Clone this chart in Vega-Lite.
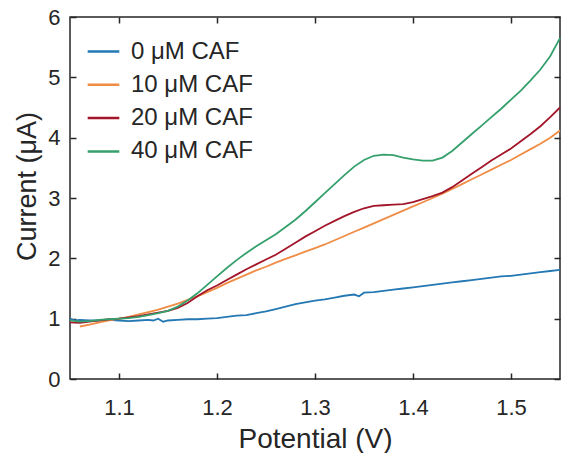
{
  "$schema": "https://vega.github.io/schema/vega-lite/v6.json",
  "width": 490,
  "height": 362,
  "padding": {"left": 13, "top": 6, "right": 0, "bottom": 0},
  "config": {
    "font": "Liberation Sans",
    "view": {"stroke": "#262626", "strokeWidth": 1.5},
    "axis": {"grid": false, "domain": false, "ticks": true, "tickColor": "#262626", "tickWidth": 1.5, "labelColor": "#262626", "titleColor": "#262626", "titleFontWeight": "normal"}
  },
  "data": {"values": [
      {"c": "0 μM CAF", "x": 1.05, "y": 1.0}, {"c": "0 μM CAF", "x": 1.055, "y": 0.97}, {"c": "0 μM CAF", "x": 1.06, "y": 0.98}, {"c": "0 μM CAF", "x": 1.07, "y": 0.97}, {"c": "0 μM CAF", "x": 1.08, "y": 0.97}, {"c": "0 μM CAF", "x": 1.09, "y": 0.98}, {"c": "0 μM CAF", "x": 1.1, "y": 0.97}, {"c": "0 μM CAF", "x": 1.11, "y": 0.96}, {"c": "0 μM CAF", "x": 1.12, "y": 0.97}, {"c": "0 μM CAF", "x": 1.13, "y": 0.98}, {"c": "0 μM CAF", "x": 1.135, "y": 0.97}, {"c": "0 μM CAF", "x": 1.14, "y": 1.0}, {"c": "0 μM CAF", "x": 1.145, "y": 0.95}, {"c": "0 μM CAF", "x": 1.15, "y": 0.97}, {"c": "0 μM CAF", "x": 1.16, "y": 0.98}, {"c": "0 μM CAF", "x": 1.17, "y": 0.99}, {"c": "0 μM CAF", "x": 1.18, "y": 0.99}, {"c": "0 μM CAF", "x": 1.19, "y": 1.0}, {"c": "0 μM CAF", "x": 1.2, "y": 1.01}, {"c": "0 μM CAF", "x": 1.21, "y": 1.03}, {"c": "0 μM CAF", "x": 1.22, "y": 1.05}, {"c": "0 μM CAF", "x": 1.23, "y": 1.06}, {"c": "0 μM CAF", "x": 1.24, "y": 1.09}, {"c": "0 μM CAF", "x": 1.25, "y": 1.12}, {"c": "0 μM CAF", "x": 1.26, "y": 1.16}, {"c": "0 μM CAF", "x": 1.27, "y": 1.2}, {"c": "0 μM CAF", "x": 1.28, "y": 1.24}, {"c": "0 μM CAF", "x": 1.29, "y": 1.27}, {"c": "0 μM CAF", "x": 1.3, "y": 1.3}, {"c": "0 μM CAF", "x": 1.31, "y": 1.32}, {"c": "0 μM CAF", "x": 1.32, "y": 1.35}, {"c": "0 μM CAF", "x": 1.33, "y": 1.38}, {"c": "0 μM CAF", "x": 1.34, "y": 1.4}, {"c": "0 μM CAF", "x": 1.345, "y": 1.37}, {"c": "0 μM CAF", "x": 1.35, "y": 1.43}, {"c": "0 μM CAF", "x": 1.36, "y": 1.44}, {"c": "0 μM CAF", "x": 1.37, "y": 1.46}, {"c": "0 μM CAF", "x": 1.38, "y": 1.48}, {"c": "0 μM CAF", "x": 1.39, "y": 1.5}, {"c": "0 μM CAF", "x": 1.4, "y": 1.52}, {"c": "0 μM CAF", "x": 1.41, "y": 1.54}, {"c": "0 μM CAF", "x": 1.42, "y": 1.56}, {"c": "0 μM CAF", "x": 1.43, "y": 1.58}, {"c": "0 μM CAF", "x": 1.44, "y": 1.6}, {"c": "0 μM CAF", "x": 1.45, "y": 1.62}, {"c": "0 μM CAF", "x": 1.46, "y": 1.64}, {"c": "0 μM CAF", "x": 1.47, "y": 1.66}, {"c": "0 μM CAF", "x": 1.48, "y": 1.68}, {"c": "0 μM CAF", "x": 1.49, "y": 1.7}, {"c": "0 μM CAF", "x": 1.5, "y": 1.71}, {"c": "0 μM CAF", "x": 1.51, "y": 1.73}, {"c": "0 μM CAF", "x": 1.52, "y": 1.75}, {"c": "0 μM CAF", "x": 1.53, "y": 1.77}, {"c": "0 μM CAF", "x": 1.54, "y": 1.79}, {"c": "0 μM CAF", "x": 1.55, "y": 1.81},

      {"c": "10 μM CAF", "x": 1.06, "y": 0.87}, {"c": "10 μM CAF", "x": 1.07, "y": 0.9}, {"c": "10 μM CAF", "x": 1.08, "y": 0.94}, {"c": "10 μM CAF", "x": 1.09, "y": 0.97}, {"c": "10 μM CAF", "x": 1.1, "y": 1.0}, {"c": "10 μM CAF", "x": 1.11, "y": 1.03}, {"c": "10 μM CAF", "x": 1.12, "y": 1.07}, {"c": "10 μM CAF", "x": 1.13, "y": 1.11}, {"c": "10 μM CAF", "x": 1.14, "y": 1.15}, {"c": "10 μM CAF", "x": 1.15, "y": 1.2}, {"c": "10 μM CAF", "x": 1.16, "y": 1.25}, {"c": "10 μM CAF", "x": 1.17, "y": 1.31}, {"c": "10 μM CAF", "x": 1.18, "y": 1.37}, {"c": "10 μM CAF", "x": 1.19, "y": 1.44}, {"c": "10 μM CAF", "x": 1.2, "y": 1.51}, {"c": "10 μM CAF", "x": 1.21, "y": 1.59}, {"c": "10 μM CAF", "x": 1.22, "y": 1.66}, {"c": "10 μM CAF", "x": 1.23, "y": 1.73}, {"c": "10 μM CAF", "x": 1.24, "y": 1.8}, {"c": "10 μM CAF", "x": 1.25, "y": 1.86}, {"c": "10 μM CAF", "x": 1.26, "y": 1.93}, {"c": "10 μM CAF", "x": 1.27, "y": 1.99}, {"c": "10 μM CAF", "x": 1.28, "y": 2.05}, {"c": "10 μM CAF", "x": 1.29, "y": 2.11}, {"c": "10 μM CAF", "x": 1.3, "y": 2.17}, {"c": "10 μM CAF", "x": 1.31, "y": 2.23}, {"c": "10 μM CAF", "x": 1.32, "y": 2.3}, {"c": "10 μM CAF", "x": 1.33, "y": 2.37}, {"c": "10 μM CAF", "x": 1.34, "y": 2.44}, {"c": "10 μM CAF", "x": 1.35, "y": 2.51}, {"c": "10 μM CAF", "x": 1.36, "y": 2.58}, {"c": "10 μM CAF", "x": 1.37, "y": 2.65}, {"c": "10 μM CAF", "x": 1.38, "y": 2.72}, {"c": "10 μM CAF", "x": 1.39, "y": 2.79}, {"c": "10 μM CAF", "x": 1.4, "y": 2.86}, {"c": "10 μM CAF", "x": 1.41, "y": 2.93}, {"c": "10 μM CAF", "x": 1.42, "y": 3.0}, {"c": "10 μM CAF", "x": 1.43, "y": 3.07}, {"c": "10 μM CAF", "x": 1.44, "y": 3.15}, {"c": "10 μM CAF", "x": 1.45, "y": 3.23}, {"c": "10 μM CAF", "x": 1.46, "y": 3.31}, {"c": "10 μM CAF", "x": 1.47, "y": 3.39}, {"c": "10 μM CAF", "x": 1.48, "y": 3.47}, {"c": "10 μM CAF", "x": 1.49, "y": 3.55}, {"c": "10 μM CAF", "x": 1.5, "y": 3.63}, {"c": "10 μM CAF", "x": 1.51, "y": 3.72}, {"c": "10 μM CAF", "x": 1.52, "y": 3.81}, {"c": "10 μM CAF", "x": 1.53, "y": 3.9}, {"c": "10 μM CAF", "x": 1.54, "y": 4.0}, {"c": "10 μM CAF", "x": 1.55, "y": 4.12},

      {"c": "20 μM CAF", "x": 1.05, "y": 0.94}, {"c": "20 μM CAF", "x": 1.06, "y": 0.93}, {"c": "20 μM CAF", "x": 1.07, "y": 0.95}, {"c": "20 μM CAF", "x": 1.08, "y": 0.97}, {"c": "20 μM CAF", "x": 1.09, "y": 0.99}, {"c": "20 μM CAF", "x": 1.1, "y": 1.0}, {"c": "20 μM CAF", "x": 1.11, "y": 1.02}, {"c": "20 μM CAF", "x": 1.12, "y": 1.04}, {"c": "20 μM CAF", "x": 1.13, "y": 1.07}, {"c": "20 μM CAF", "x": 1.14, "y": 1.1}, {"c": "20 μM CAF", "x": 1.15, "y": 1.13}, {"c": "20 μM CAF", "x": 1.16, "y": 1.18}, {"c": "20 μM CAF", "x": 1.17, "y": 1.26}, {"c": "20 μM CAF", "x": 1.18, "y": 1.37}, {"c": "20 μM CAF", "x": 1.19, "y": 1.47}, {"c": "20 μM CAF", "x": 1.2, "y": 1.55}, {"c": "20 μM CAF", "x": 1.21, "y": 1.64}, {"c": "20 μM CAF", "x": 1.22, "y": 1.73}, {"c": "20 μM CAF", "x": 1.23, "y": 1.82}, {"c": "20 μM CAF", "x": 1.24, "y": 1.9}, {"c": "20 μM CAF", "x": 1.25, "y": 1.98}, {"c": "20 μM CAF", "x": 1.26, "y": 2.06}, {"c": "20 μM CAF", "x": 1.27, "y": 2.16}, {"c": "20 μM CAF", "x": 1.28, "y": 2.26}, {"c": "20 μM CAF", "x": 1.29, "y": 2.36}, {"c": "20 μM CAF", "x": 1.3, "y": 2.45}, {"c": "20 μM CAF", "x": 1.31, "y": 2.54}, {"c": "20 μM CAF", "x": 1.32, "y": 2.62}, {"c": "20 μM CAF", "x": 1.33, "y": 2.7}, {"c": "20 μM CAF", "x": 1.34, "y": 2.77}, {"c": "20 μM CAF", "x": 1.35, "y": 2.83}, {"c": "20 μM CAF", "x": 1.36, "y": 2.87}, {"c": "20 μM CAF", "x": 1.37, "y": 2.88}, {"c": "20 μM CAF", "x": 1.38, "y": 2.89}, {"c": "20 μM CAF", "x": 1.39, "y": 2.9}, {"c": "20 μM CAF", "x": 1.4, "y": 2.93}, {"c": "20 μM CAF", "x": 1.41, "y": 2.98}, {"c": "20 μM CAF", "x": 1.42, "y": 3.03}, {"c": "20 μM CAF", "x": 1.43, "y": 3.09}, {"c": "20 μM CAF", "x": 1.44, "y": 3.18}, {"c": "20 μM CAF", "x": 1.45, "y": 3.29}, {"c": "20 μM CAF", "x": 1.46, "y": 3.4}, {"c": "20 μM CAF", "x": 1.47, "y": 3.51}, {"c": "20 μM CAF", "x": 1.48, "y": 3.62}, {"c": "20 μM CAF", "x": 1.49, "y": 3.72}, {"c": "20 μM CAF", "x": 1.5, "y": 3.82}, {"c": "20 μM CAF", "x": 1.51, "y": 3.94}, {"c": "20 μM CAF", "x": 1.52, "y": 4.06}, {"c": "20 μM CAF", "x": 1.53, "y": 4.19}, {"c": "20 μM CAF", "x": 1.54, "y": 4.34}, {"c": "20 μM CAF", "x": 1.55, "y": 4.5},

      {"c": "40 μM CAF", "x": 1.05, "y": 0.97}, {"c": "40 μM CAF", "x": 1.06, "y": 0.95}, {"c": "40 μM CAF", "x": 1.07, "y": 0.96}, {"c": "40 μM CAF", "x": 1.08, "y": 0.98}, {"c": "40 μM CAF", "x": 1.09, "y": 0.99}, {"c": "40 μM CAF", "x": 1.1, "y": 1.0}, {"c": "40 μM CAF", "x": 1.11, "y": 1.01}, {"c": "40 μM CAF", "x": 1.12, "y": 1.03}, {"c": "40 μM CAF", "x": 1.13, "y": 1.06}, {"c": "40 μM CAF", "x": 1.14, "y": 1.09}, {"c": "40 μM CAF", "x": 1.15, "y": 1.13}, {"c": "40 μM CAF", "x": 1.16, "y": 1.2}, {"c": "40 μM CAF", "x": 1.17, "y": 1.3}, {"c": "40 μM CAF", "x": 1.18, "y": 1.42}, {"c": "40 μM CAF", "x": 1.19, "y": 1.56}, {"c": "40 μM CAF", "x": 1.2, "y": 1.7}, {"c": "40 μM CAF", "x": 1.21, "y": 1.84}, {"c": "40 μM CAF", "x": 1.22, "y": 1.97}, {"c": "40 μM CAF", "x": 1.23, "y": 2.09}, {"c": "40 μM CAF", "x": 1.24, "y": 2.2}, {"c": "40 μM CAF", "x": 1.25, "y": 2.3}, {"c": "40 μM CAF", "x": 1.26, "y": 2.4}, {"c": "40 μM CAF", "x": 1.27, "y": 2.52}, {"c": "40 μM CAF", "x": 1.28, "y": 2.64}, {"c": "40 μM CAF", "x": 1.29, "y": 2.78}, {"c": "40 μM CAF", "x": 1.3, "y": 2.93}, {"c": "40 μM CAF", "x": 1.31, "y": 3.08}, {"c": "40 μM CAF", "x": 1.32, "y": 3.23}, {"c": "40 μM CAF", "x": 1.33, "y": 3.38}, {"c": "40 μM CAF", "x": 1.34, "y": 3.52}, {"c": "40 μM CAF", "x": 1.35, "y": 3.63}, {"c": "40 μM CAF", "x": 1.36, "y": 3.7}, {"c": "40 μM CAF", "x": 1.37, "y": 3.72}, {"c": "40 μM CAF", "x": 1.38, "y": 3.71}, {"c": "40 μM CAF", "x": 1.39, "y": 3.67}, {"c": "40 μM CAF", "x": 1.4, "y": 3.64}, {"c": "40 μM CAF", "x": 1.41, "y": 3.62}, {"c": "40 μM CAF", "x": 1.42, "y": 3.62}, {"c": "40 μM CAF", "x": 1.43, "y": 3.67}, {"c": "40 μM CAF", "x": 1.44, "y": 3.78}, {"c": "40 μM CAF", "x": 1.45, "y": 3.92}, {"c": "40 μM CAF", "x": 1.46, "y": 4.06}, {"c": "40 μM CAF", "x": 1.47, "y": 4.2}, {"c": "40 μM CAF", "x": 1.48, "y": 4.34}, {"c": "40 μM CAF", "x": 1.49, "y": 4.48}, {"c": "40 μM CAF", "x": 1.5, "y": 4.63}, {"c": "40 μM CAF", "x": 1.51, "y": 4.78}, {"c": "40 μM CAF", "x": 1.52, "y": 4.95}, {"c": "40 μM CAF", "x": 1.53, "y": 5.13}, {"c": "40 μM CAF", "x": 1.54, "y": 5.35}, {"c": "40 μM CAF", "x": 1.55, "y": 5.65}
  ]},
  "layer": [
    {
      "mark": {"type": "line", "strokeWidth": 1.8},
      "encoding": {
        "x": {"field": "x", "type": "quantitative", "scale": {"domain": [1.05, 1.55], "nice": false, "zero": false},
          "axis": {"orient": "bottom", "values": [1.1, 1.2, 1.3, 1.4, 1.5], "format": ".1f", "tickSize": -6, "labelPadding": 24, "labelFontSize": 22, "title": "Potential (V)", "titleFontSize": 28, "titleY": 68, "titleBaseline": "alphabetic"}},
        "y": {"field": "y", "type": "quantitative", "scale": {"domain": [0, 6], "nice": false, "zero": true},
          "axis": {"orient": "left", "values": [0, 1, 2, 3, 4, 5, 6], "format": "d", "tickSize": -6, "labelPadding": 16, "labelFontSize": 22, "title": "Current (μA)", "titleFontSize": 27, "titleX": -35, "titleY": 169, "titleBaseline": "alphabetic", "titleAngle": -90}},
        "color": {"field": "c", "type": "nominal",
          "scale": {"domain": ["0 μM CAF", "10 μM CAF", "20 μM CAF", "40 μM CAF"], "range": ["#2478b4", "#ef8c45", "#a3162a", "#35a06c"]},
          "legend": {"title": null, "orient": "none", "legendX": 16, "legendY": 17, "symbolType": "stroke", "symbolSize": 1000, "symbolStrokeWidth": 2.5, "labelFontSize": 24, "labelColor": "#262626", "labelOffset": 10, "rowPadding": 3.3, "padding": 0}}
      }
    },
    {
      "mark": {"type": "line", "strokeOpacity": 0},
      "encoding": {
        "x": {"field": "x", "type": "quantitative", "axis": {"orient": "top", "values": [1.1, 1.2, 1.3, 1.4, 1.5], "labels": false, "tickSize": -6, "title": null}},
        "y": {"field": "y", "type": "quantitative", "axis": {"orient": "right", "values": [0, 1, 2, 3, 4, 5, 6], "labels": false, "tickSize": -6, "title": null}},
        "detail": {"field": "c"}
      }
    }
  ],
  "resolve": {"axis": {"x": "independent", "y": "independent"}}
}
